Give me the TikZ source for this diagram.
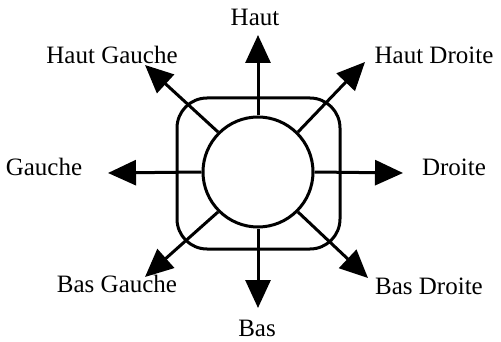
\documentclass[tikz,border=0pt]{standalone}
\usepackage{fontspec}
\setmainfont{Liberation Serif}
\usetikzlibrary{arrows.meta}
\begin{document}
\begin{tikzpicture}[x=1pt,y=-1pt,
  thick line/.style={line width=3pt},
  arr/.style={thick line,-{Triangle[length=28pt,width=25pt]}},
  lab/.style={font=\fontsize{25}{29}\selectfont, inner sep=0pt}]
\useasboundingbox (0,0) rectangle (501,342);
\node[draw, thick line, rounded corners=30pt, minimum width=163pt, minimum height=151pt] (box) at (258.5,173.5) {};
\node[draw, thick line, circle, minimum size=110pt, fill=white] (c) at (258,172) {};
\coordinate (tU) at (258,35);
\coordinate (tD) at (258,308);
\coordinate (tL) at (108,173);
\coordinate (tR) at (403,173);
\coordinate (tUL) at (145,65);
\coordinate (tUR) at (365,62);
\coordinate (tDL) at (145,277);
\coordinate (tDR) at (368,278);
\draw[arr] (c.north) -- (tU);
\draw[arr] (c.south) -- (tD);
\draw[arr] (c.west) -- (tL);
\draw[arr] (c.east) -- (tR);
\draw[arr] (c.north west) -- (tUL);
\draw[arr] (c.north east) -- (tUR);
\draw[arr] (c.south west) -- (tDL);
\draw[arr] (c.south east) -- (tDR);
\node[lab] (lU) at (255,17) {Haut};
\node[lab] (lD) at (257,328) {Bas};
\node[lab] (lL) at (44,167) {Gauche};
\node[lab] (lR) at (454,167) {Droite};
\node[lab] (lUL) at (112,55) {Haut Gauche};
\node[lab] (lUR) at (434,55) {Haut Droite};
\node[lab] (lDL) at (117,284) {Bas Gauche};
\node[lab] (lDR) at (429,286) {Bas Droite};
\end{tikzpicture}
\end{document}
